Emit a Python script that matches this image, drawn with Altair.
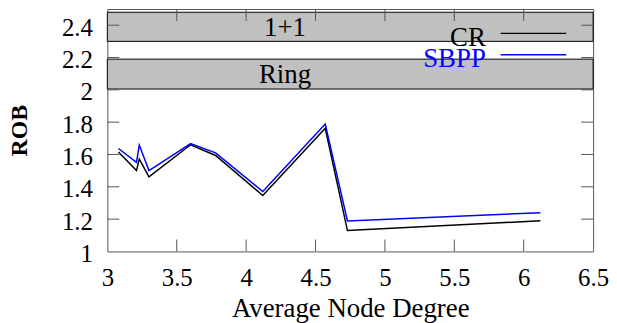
import altair as alt
import pandas as pd

# ---- data ----
degree = [3.08, 3.21, 3.23, 3.30, 3.60, 3.78, 4.12, 4.57, 4.73, 6.12]
rob_cr = [1.615, 1.50, 1.572, 1.461, 1.66, 1.594, 1.346, 1.762, 1.129, 1.19]
rob_sbpp = [1.637, 1.551, 1.658, 1.50, 1.667, 1.61, 1.371, 1.789, 1.189, 1.24]
series = ["CR", "SBPP"]
colors = ["#000000", "#0000ff"]

x_ticks = [3, 3.5, 4, 4.5, 5, 5.5, 6, 6.5]
y_ticks = [1, 1.2, 1.4, 1.6, 1.8, 2, 2.2, 2.4]

band_labels = ["1+1", "Ring"]
band_lo = [2.3, 2.005]
band_hi = [2.48, 2.19]
band_label_x = [4.28, 4.28]
x_range = [3, 6.5]
y_range = [1, 2.5]

FONT = "Liberation Serif"
W, H = 489, 244

lines_df = pd.DataFrame({
    "degree": degree * 2,
    "rob": rob_cr + rob_sbpp,
    "series": [series[0]] * len(degree) + [series[1]] * len(degree),
})
bands_df = pd.DataFrame({
    "label": band_labels,
    "lo": band_lo,
    "hi": band_hi,
    "mid": [(a + b) / 2 for a, b in zip(band_lo, band_hi)],
    "lx": band_label_x,
    "x0": [x_range[0]] * len(band_labels),
    "x1": [x_range[1]] * len(band_labels),
})
xt_df = pd.DataFrame({"v": x_ticks[1:-1]})
yt_df = pd.DataFrame({"v": y_ticks[1:]})

xs = alt.Scale(domain=x_range, nice=False, zero=False)
ys = alt.Scale(domain=y_range, nice=False, zero=False)

x_axis = alt.Axis(
    values=x_ticks, format="~g", title="Average Node Degree", grid=False,
    domain=False, ticks=False, tickSize=0, labelPadding=34,
    labelBaseline="alphabetic", labelFont=FONT, labelFontSize=25,
    labelColor="black", titleFont=FONT, titleFontSize=27, titleFontWeight="normal",
    titleColor="black", titleBaseline="alphabetic", titleY=66, titleX=W / 2,
    labelFlush=False, labelOverlap=False,
)
y_axis = alt.Axis(
    values=y_ticks, format="~g", title="ROB", grid=False,
    domain=False, ticks=False, tickSize=0, labelPadding=15,
    labelBaseline="middle", labelFont=FONT, labelFontSize=25,
    labelColor="black", titleFont=FONT, titleFontSize=24, titleFontWeight="bold",
    titleColor="black", titleAngle=270, titleBaseline="alphabetic",
    titleAlign="center", titleX=-81, titleY=H / 2,
    labelFlush=False, labelOverlap=False, labelOffset=2,
)


def X(field):
    return alt.X(f"{field}:Q", scale=xs, axis=x_axis)


def Y(field):
    return alt.Y(f"{field}:Q", scale=ys, axis=y_axis)


boxes = alt.Chart(bands_df).mark_rect(
    fill="#c0c0c0", stroke="black", strokeWidth=1
).encode(x=X("x0"), x2="x1", y=Y("lo"), y2="hi")

tick_style = dict(color="#555555", strokeWidth=1)
xt_bottom = alt.Chart(xt_df).mark_rule(**tick_style).encode(
    x=X("v"), y=alt.value(H), y2=alt.value(H - 12))
xt_top = alt.Chart(xt_df).mark_rule(**tick_style).encode(
    x=X("v"), y=alt.value(0), y2=alt.value(12))
yt_left = alt.Chart(yt_df).mark_rule(**tick_style).encode(
    y=Y("v"), x=alt.value(0), x2=alt.value(12))
yt_right = alt.Chart(yt_df).mark_rule(**tick_style).encode(
    y=Y("v"), x=alt.value(W), x2=alt.value(W - 12))

lines = alt.Chart(lines_df).mark_line(strokeWidth=1.5).encode(
    x=X("degree"), y=Y("rob"),
    color=alt.Color("series:N", scale=alt.Scale(domain=series, range=colors), legend=None),
    order=alt.Order("degree:Q"),
)

band_text = alt.Chart(bands_df).mark_text(
    font=FONT, fontSize=27, baseline="alphabetic", align="center", dy=9, color="black"
).encode(x=X("lx"), y=Y("mid"), text="label:N")

legend_layers = []
for i, (name, col) in enumerate(zip(series, colors)):
    ldf = pd.DataFrame({"name": [name]})
    legend_layers.append(
        alt.Chart(ldf).mark_text(font=FONT, fontSize=27, align="right",
                                 baseline="alphabetic", color=col).encode(
            text="name:N", x=alt.value(381), y=alt.value(37 + 21 * i)))
    legend_layers.append(
        alt.Chart(ldf).mark_rule(color=col, strokeWidth=1.5).encode(
            x=alt.value(396), x2=alt.value(462), y=alt.value(24.5 + 21.5 * i)))

chart = alt.layer(
    boxes, xt_bottom, xt_top, yt_left, yt_right, lines, band_text, *legend_layers
).properties(
    width=W, height=H,
    autosize=alt.AutoSizeParams(type="none"),
    padding={"left": 100, "top": 0, "right": 16, "bottom": 71},
).configure_view(stroke="#555555", strokeWidth=1)

chart.save("out.html", embed_options={"renderer": "svg", "actions": False})
